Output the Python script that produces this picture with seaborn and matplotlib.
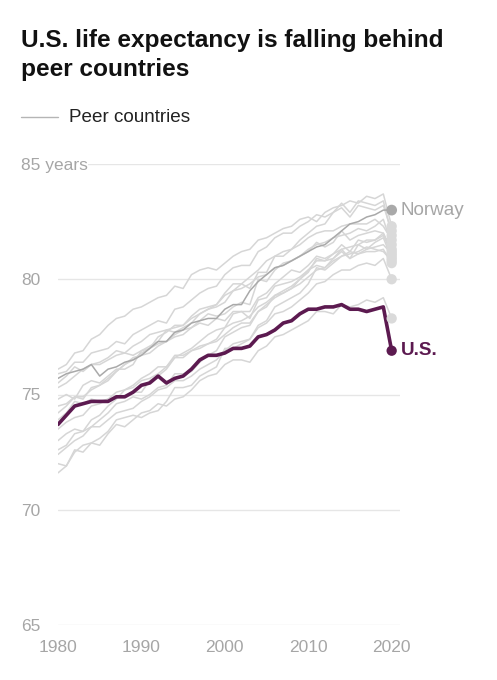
import numpy as np
import pandas as pd
import seaborn as sns
import matplotlib.pyplot as plt

# Esperanca de vida (anos), 1980-2020
anos = list(range(1980, 2021))

eua = [73.7, 74.1, 74.5, 74.6, 74.7, 74.7, 74.7, 74.9, 74.9, 75.1,
       75.4, 75.5, 75.8, 75.5, 75.7, 75.8, 76.1, 76.5, 76.7, 76.7,
       76.8, 77.0, 77.0, 77.1, 77.5, 77.6, 77.8, 78.1, 78.2, 78.5,
       78.7, 78.7, 78.8, 78.8, 78.9, 78.7, 78.7, 78.6, 78.7, 78.8,
       76.9]

noruega = [75.7, 75.9, 76.0, 76.1, 76.3, 75.8, 76.1, 76.2, 76.4, 76.5,
           76.7, 77.0, 77.3, 77.3, 77.7, 77.8, 78.1, 78.2, 78.3, 78.3,
           78.7, 78.9, 78.9, 79.5, 79.9, 80.2, 80.5, 80.6, 80.8, 81.0,
           81.2, 81.4, 81.5, 81.8, 82.1, 82.4, 82.5, 82.7, 82.8, 83.0,
           83.0]

# Demais paises pares (linhas cinza claro)
pares = {
    'p01': [76.1, 76.3, 76.8, 76.9, 77.4, 77.6, 78.0, 78.3, 78.4, 78.7,
            78.8, 79.0, 79.2, 79.3, 79.7, 79.6, 80.2, 80.4, 80.5, 80.4,
            80.7, 81.0, 81.2, 81.3, 81.7, 81.8, 82.0, 82.2, 82.3, 82.6,
            82.7, 82.5, 82.9, 83.1, 83.2, 83.4, 83.3, 83.6, 83.5, 83.7,
            82.3],
    'p02': [75.9, 76.0, 76.4, 76.4, 76.8, 76.9, 77.0, 77.3, 77.2, 77.6,
            77.8, 78.0, 78.2, 78.1, 78.7, 78.8, 79.1, 79.4, 79.6, 79.7,
            80.2, 80.5, 80.6, 80.6, 81.2, 81.4, 81.8, 82.0, 82.0, 82.3,
            82.5, 82.8, 82.7, 82.9, 83.3, 82.9, 83.4, 83.3, 83.2, 83.4,
            81.9],
    'p03': [75.5, 75.8, 76.2, 76.0, 76.3, 76.4, 76.6, 76.9, 76.8, 76.7,
            76.9, 77.0, 77.5, 77.7, 78.0, 78.0, 78.4, 78.7, 78.8, 78.9,
            79.4, 79.8, 79.8, 79.6, 80.3, 80.3, 81.0, 81.0, 81.3, 81.7,
            82.0, 82.3, 82.4, 82.9, 83.1, 82.7, 83.2, 83.1, 83.0, 83.2,
            82.1],
    'p04': [75.3, 75.5, 75.8, 76.1, 76.3, 76.3, 76.5, 76.7, 76.8, 77.1,
            77.3, 77.6, 77.7, 77.8, 77.9, 78.0, 78.3, 78.5, 78.7, 78.9,
            79.3, 79.5, 79.6, 79.8, 80.1, 80.2, 80.5, 80.6, 80.8, 81.0,
            81.3, 81.5, 81.6, 81.8, 81.9, 82.0, 82.2, 82.1, 82.3, 82.6,
            81.5],
    'p05': [74.8, 75.0, 74.8, 75.4, 75.6, 75.5, 75.8, 76.1, 76.1, 76.3,
            76.9, 77.1, 77.3, 77.8, 77.7, 77.9, 78.1, 78.5, 78.7, 78.8,
            79.0, 79.5, 79.8, 80.1, 80.4, 80.8, 81.0, 81.2, 81.3, 81.5,
            81.8, 82.0, 82.1, 82.1, 82.3, 82.4, 82.4, 82.4, 82.6, 82.3,
            81.7],
    'p06': [74.5, 74.6, 74.9, 74.9, 75.2, 75.4, 75.6, 76.0, 76.3, 76.5,
            76.8, 77.0, 77.2, 77.3, 77.6, 77.8, 77.9, 78.2, 78.5, 78.4,
            78.5, 78.8, 79.0, 78.9, 80.0, 79.9, 80.4, 80.7, 80.8, 81.0,
            81.2, 81.6, 81.4, 81.6, 82.1, 81.7, 81.9, 82.0, 82.1, 82.0,
            81.3],
    'p07': [74.2, 74.5, 74.9, 74.8, 75.3, 75.4, 75.7, 76.0, 76.3, 76.6,
            76.7, 76.8, 77.1, 77.3, 77.5, 77.6, 77.9, 78.1, 78.0, 78.3,
            78.2, 78.6, 78.6, 78.3, 79.1, 79.2, 79.7, 79.8, 79.9, 80.1,
            80.4, 80.6, 80.5, 80.9, 81.3, 80.9, 81.5, 81.3, 81.6, 81.8,
            80.9],
    'p08': [73.9, 74.2, 74.7, 74.6, 74.8, 74.7, 74.8, 74.9, 74.9, 75.1,
            75.1, 75.6, 75.8, 76.1, 76.6, 76.6, 76.9, 77.0, 77.2, 77.4,
            77.9, 78.1, 78.2, 78.4, 78.8, 79.0, 79.3, 79.4, 79.6, 79.8,
            80.1, 80.4, 80.5, 80.8, 81.0, 81.2, 81.1, 81.3, 81.4, 81.5,
            81.1],
    'p09': [73.5, 73.8, 74.0, 74.1, 74.5, 74.6, 74.8, 75.1, 75.2, 75.4,
            75.7, 75.9, 76.2, 76.2, 76.7, 76.7, 76.9, 77.1, 77.2, 77.3,
            77.6, 77.9, 78.1, 78.1, 78.6, 78.9, 79.2, 79.4, 79.6, 80.0,
            80.4, 80.8, 80.8, 80.9, 81.2, 80.9, 81.1, 81.2, 81.2, 81.3,
            80.7],
    'p10': [73.0, 73.3, 73.5, 73.4, 73.9, 74.1, 74.5, 74.8, 75.2, 75.3,
            75.6, 75.7, 75.9, 76.2, 76.6, 76.8, 77.0, 77.3, 77.6, 77.8,
            77.9, 78.5, 78.6, 78.6, 79.2, 79.4, 79.8, 80.1, 80.4, 80.3,
            80.6, 81.0, 80.9, 81.1, 81.5, 81.2, 81.7, 81.6, 81.7, 81.9,
            81.2],
    'p11': [72.6, 72.8, 73.3, 73.4, 73.6, 73.9, 74.2, 74.6, 74.7, 74.9,
            74.8, 75.0, 75.3, 75.4, 75.9, 75.9, 76.0, 76.4, 76.7, 76.9,
            77.5, 77.7, 77.9, 78.0, 78.6, 78.8, 79.3, 79.5, 79.7, 80.0,
            80.3, 80.9, 80.8, 81.1, 81.3, 81.4, 81.5, 81.7, 81.7, 82.0,
            81.0],
    'p12': [72.4, 72.7, 73.0, 73.2, 73.6, 73.6, 73.9, 74.2, 74.3, 74.4,
            74.7, 74.9, 75.2, 75.3, 75.6, 75.6, 75.8, 76.1, 76.3, 76.5,
            76.9, 77.2, 77.3, 77.4, 77.9, 78.1, 78.5, 78.6, 78.8, 79.1,
            79.4, 79.8, 79.9, 80.2, 80.4, 80.4, 80.6, 80.7, 80.6, 80.9,
            80.0],
    'p13': [72.0, 71.9, 72.5, 72.8, 72.9, 72.8, 73.3, 73.7, 73.6, 73.9,
            74.2, 74.3, 74.6, 74.5, 74.8, 74.9, 75.2, 75.6, 75.8, 75.9,
            76.3, 76.5, 76.5, 76.4, 76.9, 77.1, 77.5, 77.6, 77.8, 78.0,
            78.2, 78.6, 78.6, 78.5, 78.9, 78.8, 78.9, 79.1, 79.0, 79.2,
            78.3],
    'p14': [71.6, 71.9, 72.6, 72.5, 72.9, 73.1, 73.4, 73.9, 74.0, 74.1,
            74.0, 74.2, 74.3, 74.7, 75.3, 75.3, 75.4, 75.8, 76.0, 76.2,
            77.0, 77.0, 77.2, 77.4, 78.0, 78.2, 78.8, 79.0, 79.2, 79.4,
            79.8, 80.5, 80.4, 80.7, 81.0, 81.1, 81.2, 81.4, 81.3, 81.2,
            80.8],
}

y_ticks = [65, 70, 75, 80, 85]
y_labels = ['65', '70', '75', '80', '85 years']
x_ticks = [1980, 1990, 2000, 2010, 2020]

cor_eua = '#5c1a50'
cor_par = '#d6d6d6'
cor_nor = '#a9a9a9'
cor_texto = '#a6a6a6'

# Tabela longa para o seaborn
df_pares = pd.concat([pd.DataFrame({'ano': anos, 'vida': v, 'pais': k}) for k, v in pares.items()])
df_nor = pd.DataFrame({'ano': anos, 'vida': noruega, 'pais': 'Norway'})
df_eua = pd.DataFrame({'ano': anos, 'vida': eua, 'pais': 'U.S.'})

sns.set_style('white')
plt.rcParams['font.family'] = ['Liberation Sans', 'DejaVu Sans']

fig = plt.figure(figsize=(4.97, 6.8), dpi=100)
ax = fig.add_axes([58 / 497, 55 / 680, 342 / 497, 461 / 680])

sns.lineplot(data=df_pares, x='ano', y='vida', units='pais', estimator=None,
             color=cor_par, linewidth=1.1, ax=ax, legend=False)
sns.lineplot(data=df_nor, x='ano', y='vida', color=cor_nor, linewidth=1.1, ax=ax)
sns.lineplot(data=df_eua, x='ano', y='vida', color=cor_eua, linewidth=2.6, ax=ax)

# Pontos finais (2020)
fim_pares = df_pares[df_pares['ano'] == 2020]
sns.scatterplot(data=fim_pares, x='ano', y='vida', color='#dadada', s=55,
                edgecolor='none', ax=ax, clip_on=False, zorder=3)
sns.scatterplot(data=df_nor[df_nor['ano'] == 2020], x='ano', y='vida', color=cor_nor,
                s=60, edgecolor='none', ax=ax, clip_on=False, zorder=4)
sns.scatterplot(data=df_eua[df_eua['ano'] == 2020], x='ano', y='vida', color=cor_eua,
                s=55, edgecolor='none', ax=ax, clip_on=False, zorder=5)

ax.text(2021.1, noruega[-1], 'Norway', color=cor_texto, fontsize=13.6, va='center', ha='left')
ax.text(2021.1, eua[-1], 'U.S.', color=cor_eua, fontsize=13.6, fontweight='bold',
        va='center', ha='left')

ax.set_xlim(1980, 2021)
ax.set_ylim(65, 85)
ax.set_xticks(x_ticks)
ax.set_yticks(y_ticks)
ax.set_yticklabels(y_labels)
ax.set_xlabel('')
ax.set_ylabel('')
for s in ax.spines.values():
    s.set_visible(False)
ax.grid(axis='y', color='#e6e6e6', linewidth=1)
ax.grid(axis='x', visible=False)
ax.tick_params(axis='both', length=0, labelsize=12.5, colors=cor_texto)
ax.tick_params(axis='y', pad=26.6)
ax.tick_params(axis='x', pad=10.5)
for lab in ax.get_yticklabels():
    lab.set_horizontalalignment('left')
ax.get_yticklabels()[-1].set_bbox(dict(facecolor='white', edgecolor='none', pad=0.3))

# Titulo e legenda
fig.text(21 / 497, 1 - 29 / 680, 'U.S. life expectancy is falling behind\npeer countries',
         fontsize=17.6, fontweight='bold', color='#111111', va='top', ha='left', linespacing=1.32)
fig.add_artist(plt.Line2D([21 / 497, 58 / 497], [1 - 117 / 680, 1 - 117 / 680],
                          color='#b5b5b5', linewidth=1))
fig.text(69 / 497, 1 - 117 / 680, 'Peer countries', fontsize=13.6, color='#222222',
         va='center', ha='left')

plt.savefig('out.png', dpi=100)
